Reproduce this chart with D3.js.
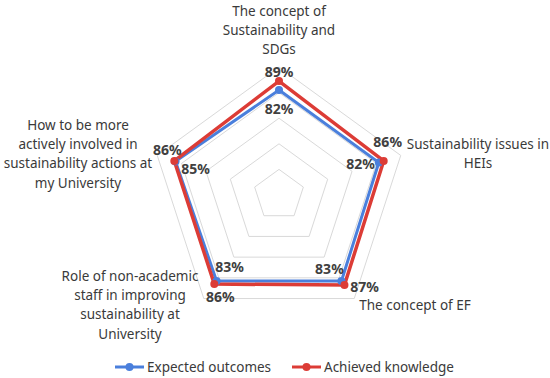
<!DOCTYPE html>
<html>
<head>
<meta charset="utf-8">
<script src="https://cdn.jsdelivr.net/npm/d3@7"></script>
<style>
  body { margin: 0; background: #fff; }
  svg { display: block; font-family: "Noto Sans", "Open Sans", sans-serif; }
  .cat { font-size: 13.5px; fill: #3a3a3a; }
  .val { font-size: 14px; font-weight: bold; fill: #404040; }
  .legend-text { font-size: 13.5px; fill: #3a3a3a; }
</style>
</head>
<body>
<div class="chart"></div>
<script>
var categories = [
  "The concept of Sustainability and SDGs",
  "Sustainability issues in HEIs",
  "The concept of EF",
  "Role of non-academic staff in improving sustainability at University",
  "How to be more actively involved in sustainability actions at my University"
];
var expectedOutcomes = [0.82, 0.82, 0.83, 0.83, 0.85];
var achievedKnowledge = [0.89, 0.86, 0.87, 0.86, 0.86];
var seriesNames = ["Expected outcomes", "Achieved knowledge"];
var gridTicks = [0.2, 0.4, 0.6, 0.8, 1.0];

var svgWidth = 550;
var svgHeight = 378;
var cx = 279, cy = 195;

var colors = ["#4a7fdc", "#dc3c36"];

var svg = d3.select(".chart")
  .append("svg")
  .attr("width", svgWidth)
  .attr("height", svgHeight);

var chartGroup = svg.append("g")
  .attr("transform", `translate(${cx}, ${cy})`);

var rScale = d3.scaleLinear().domain([0, 1]).range([0, 128]);
var angle = d3.scaleLinear().domain([0, categories.length]).range([0, 2 * Math.PI]);

function pt(i, v) {
  var a = angle(i);
  return [rScale(v) * Math.sin(a), -rScale(v) * Math.cos(a)];
}

// grid pentagons
var gridLine = d3.lineRadial()
  .angle((d, i) => angle(i))
  .radius(d => rScale(d))
  .curve(d3.curveLinearClosed);

chartGroup.selectAll(".grid")
  .data(gridTicks)
  .enter()
  .append("path")
  .attr("class", "grid")
  .attr("d", t => gridLine(categories.map(() => t)))
  .attr("fill", "none")
  .attr("stroke", "#d9d9d9")
  .attr("stroke-width", 1);

// series lines
var series = [expectedOutcomes, achievedKnowledge];
series.forEach(function(vals, s) {
  chartGroup.append("path")
    .attr("d", gridLine(vals))
    .attr("fill", "none")
    .attr("stroke", colors[s])
    .attr("stroke-width", s === 1 ? 3.5 : 3)
    .attr("stroke-linejoin", "miter");
});
series.forEach(function(vals, s) {
  chartGroup.selectAll(".dot" + s)
    .data(vals)
    .enter()
    .append("circle")
    .attr("cx", (d, i) => pt(i, d)[0])
    .attr("cy", (d, i) => pt(i, d)[1])
    .attr("r", 4)
    .attr("fill", colors[s]);
});

// data label offsets, [dx, dy, anchor]
var labelOffsets = [
  [[0, 19, "middle"], [-4, 2, "end"], [-12, -12, "middle"], [13, -14, "middle"], [20, 8, "middle"]],
  [[0, -9, "middle"], [4, -19, "middle"], [20, 2, "middle"], [6, 13, "middle"], [-7, -11, "middle"]]
];
series.forEach(function(vals, s) {
  chartGroup.selectAll(".val" + s)
    .data(vals)
    .enter()
    .append("text")
    .attr("class", "val")
    .attr("x", (d, i) => pt(i, d)[0] + labelOffsets[s][i][0])
    .attr("y", (d, i) => pt(i, d)[1] + labelOffsets[s][i][1])
    .attr("dy", "0.35em")
    .attr("text-anchor", (d, i) => labelOffsets[s][i][2])
    .text(d => d3.format(".0%")(d));
});

// category labels: wrapped lines and centre positions (absolute)
var catLines = [
  ["The concept of", "Sustainability and", "SDGs"],
  ["Sustainability issues in", "HEIs"],
  ["The concept of EF"],
  ["Role of non-academic", "staff in improving", "sustainability at", "University"],
  ["How to be more", "actively involved in", "sustainability actions at", "my University"]
];
var catPos = [[279, 11], [478, 144], [415, 305], [130, 276], [78, 125]];
var lineH = 19.3;

catLines.forEach(function(lines, i) {
  var t = svg.append("text")
    .attr("class", "cat")
    .attr("text-anchor", "middle");
  lines.forEach(function(l, j) {
    t.append("tspan")
      .attr("x", catPos[i][0])
      .attr("y", catPos[i][1] + j * lineH)
      .attr("dy", "0.35em")
      .text(l);
  });
});

// legend
var legendX = [115, 292];
seriesNames.forEach(function(name, s) {
  var g = svg.append("g").attr("transform", `translate(${legendX[s]}, 367)`);
  g.append("line")
    .attr("x1", 0).attr("x2", 29)
    .attr("stroke", colors[s])
    .attr("stroke-width", 3);
  g.append("circle")
    .attr("cx", 14.5).attr("r", 4)
    .attr("fill", colors[s]);
  g.append("text")
    .attr("class", "legend-text")
    .attr("x", 32)
    .attr("dy", "0.4em")
    .text(name);
});
</script>
</body>
</html>
